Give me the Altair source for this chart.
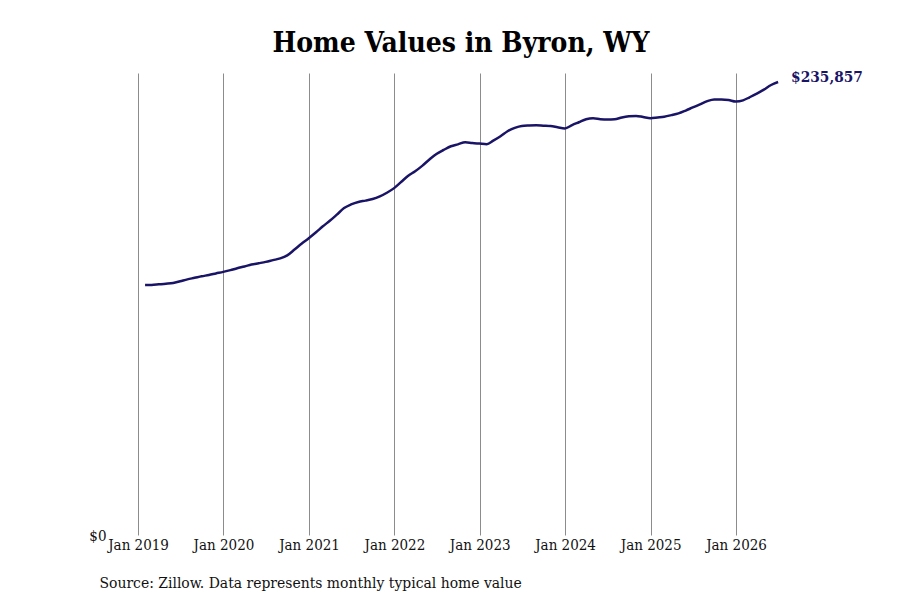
import pandas as pd
import altair as alt

# Monthly typical home value (Zillow), end of month
months = pd.date_range("2019-01-31", "2026-06-30", freq="ME").strftime("%Y-%m-%d").tolist()
values = [
    130100, 130200, 130500, 130800, 131200, 132100, 133100, 133900, 134700, 135400, 136200, 137000,
    137900, 138900, 139800, 140800, 141500, 142200, 143100, 144000, 145600, 148600, 151600, 154500,
    157600, 160600, 163600, 166800, 170200, 172100, 173400, 174100, 174900, 176300, 178200, 180600,
    183900, 186900, 189400, 192200, 195500, 198400, 200500, 202400, 203400, 204500, 204100, 203800,
    203500, 205300, 207600, 210200, 212000, 213000, 213200, 213300, 213100, 212900, 212300, 211700,
    213400, 214900, 216500, 217000, 216500, 216300, 216400, 217400, 218000, 218200, 217600, 217000,
    217400, 217800, 218600, 219500, 221000, 222600, 224200, 225900, 226800, 226800, 226500, 225700,
    226300, 227900, 229800, 231900, 234300, 235857,
]

df = pd.DataFrame({"date": months, "value": values})
last = df.tail(1)

FONT = "DejaVu Serif Condensed, DejaVu Serif"
NAVY = "#1a1466"

x = alt.X(
    "date:T",
    scale=alt.Scale(domain=["2018-09-03", "2026-11-22"]),
    axis=alt.Axis(
        format="%b %Y",
        tickCount={"interval": "year", "step": 1},
        grid=True, gridColor="#8c8c8c", gridWidth=1,
        domain=False, ticks=False,
        labelPadding=2, labelFontSize=15, labelColor="#111",
        title="Source: Zillow. Data represents monthly typical home value",
        titleAnchor="start", titleAlign="left", titleX=-11, titleY=52,
        titleBaseline="alphabetic", titleFontSize=15.5, titleFontWeight="normal",
        titleColor="#111",
    ),
)
y = alt.Y(
    "value:Q",
    scale=alt.Scale(domain=[0, 240540], nice=False),
    axis=alt.Axis(
        values=[0], format="$,.0f", grid=False, domain=False, ticks=False,
        title="", labelPadding=4, labelFontSize=15, labelColor="#111",
    ),
)

line = alt.Chart(df).mark_line(color=NAVY, strokeWidth=2.5, interpolate="monotone").encode(x=x, y=y)

label = alt.Chart(last).mark_text(
    align="left", dx=13, dy=-5, fontSize=15.3, fontWeight="bold", color=NAVY, font=FONT
).encode(x="date:T", y="value:Q", text=alt.Text("value:Q", format="$,.0f"))

chart = (line + label).properties(
    width=702,
    height=462,
    autosize=alt.AutoSizeParams(type="none"),
    padding={"left": 102, "top": 65, "right": 80, "bottom": 57},
    title=alt.TitleParams(
        "Home Values in Byron, WY", fontSize=28, fontWeight="bold", font=FONT,
        anchor="middle", baseline="alphabetic", offset=-10, color="#000",
    ),
).configure_view(strokeWidth=0).configure_axis(labelFont=FONT, titleFont=FONT)

chart.save("out.html", embed_options={"renderer": "svg", "actions": False})
